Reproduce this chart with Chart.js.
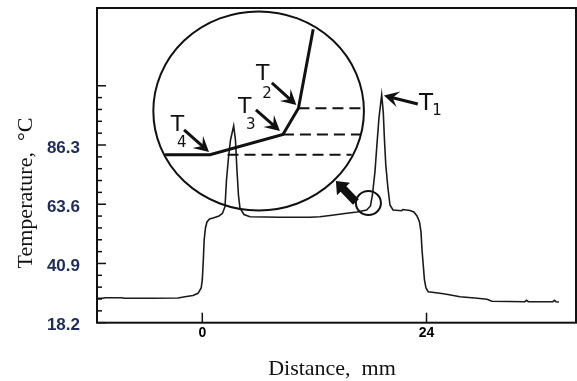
<!DOCTYPE html>
<html><head><meta charset="utf-8">
<script src="https://cdn.jsdelivr.net/npm/chart.js@4.4.1/dist/chart.umd.min.js"></script>
<style>html,body{margin:0;padding:0;background:#fff}canvas{display:block}</style>
</head><body>
<canvas id="c" width="577" height="381"></canvas>
<script>
// ---- temperature profile ----
const distance = [-11.27,-10.63,-10.41,-8.59,-8.38,-5.6,-2.6,-1.85,-1.0,-0.46,-0.12,0,0.11,0.2,0.34,0.5,0.77,1.15,1.79,2.16,2.43,2.59,2.8,3.02,3.36,3.55,3.71,3.87,4.03,4.46,5.1,8.31,11.52,12.59,13.88,15.27,16.55,17.59,18.0,18.21,18.48,18.69,18.91,19.2,19.37,19.5,19.64,19.87,20.09,20.41,21.34,21.47,22.23,22.65,22.98,23.25,23.41,23.52,23.65,23.78,23.94,24.18,25.44,26.29,27.58,29.18,30.47,31.0,34.52,34.71,34.9,37.53,37.69,37.85,38.17];
const temperature = [27.55,27.55,27.78,27.78,27.55,27.55,27.67,28.17,28.63,29.47,31.5,34.57,42.23,49.9,54.5,56.8,57.95,58.33,59.1,60.13,62.66,72.9,81.33,88.23,93.6,88.23,76.73,67.15,62.17,59.67,58.83,58.6,58.6,58.83,59.37,60.05,60.63,61.4,62.93,67.15,75.96,86.31,96.66,105.48,98.96,88.23,78.64,69.83,63.31,61.4,61.13,61.59,61.2,60.63,59.1,56.8,52.96,46.06,40.32,34.57,31.5,30.08,29.47,29.01,28.17,27.67,27.17,26.44,26.25,26.79,26.25,26.25,26.79,26.25,26.13];

// ---- axes ----
const xMin = -11.27, xMax = 40;
const yMin = 18.2, yMax = 138.8;
const xTickValues = [0, 24];
const xTickLabels = ['0', '24'];
const yTickValues = [18.2, 40.9, 63.6, 86.3, 109.0];
const yTickLabels = ['18.2', '40.9', '63.6', '86.3', ''];
const xTitle = 'Distance,  mm';
const yTitle = 'Temperature,  \u00B0C';

// ---- inset sketch (data units) ----
const insetCircle = {x: 6.03, y: 99.34, rx: 11.27, ry: 38.14};
const insetLineX = [-3.98, 0.82, 8.63, 10.29, 11.87];
const insetLineY = [82.6, 82.6, 90.33, 100.38, 130.66];
const dashFromX = [10.29, 8.63, 2.7];
const dashToX   = [17.19, 16.98, 15.99];
const dashY     = [100.38, 90.33, 82.6];
const labelNames = ['1', '2', '3', '4'];
const labelTX = [23.96, 6.47, 4.53, -2.65];
const labelTY = [102.91, 114.1, 101.64, 94.55];
const labelSubX = [25.13, 6.92, 5.19, -2.20];
const labelSubY = [99.92, 106.43, 94.36, 87.46];
const arrowTailX = [23.07, 7.45, 5.74, -1.95];
const arrowTailY = [102.0, 110.07, 99.73, 92.06];
const arrowTipX  = [19.44, 10.07, 8.31, 0.72];
const arrowTipY  = [105.28, 101.64, 91.68, 83.63];
const markCircle = {x: 17.78, y: 64.08, rx: 1.34, ry: 4.6};
const bigArrow = {x1: 16.44, y1: 64.46, x2: 14.3, y2: 72.51};

function drawArrow(ctx, x1, y1, x2, y2, w, len, half, notch) {
  const a = Math.atan2(y2 - y1, x2 - x1);
  const dx = Math.cos(a), dy = Math.sin(a);
  const px = -dy, py = dx;
  const nx = x2 - dx * len * notch, ny = y2 - dy * len * notch;
  ctx.lineWidth = w; ctx.lineCap = 'butt';
  ctx.beginPath(); ctx.moveTo(x1, y1); ctx.lineTo(nx + dx * 1, ny + dy * 1); ctx.stroke();
  ctx.beginPath();
  ctx.moveTo(x2, y2);
  ctx.lineTo(x2 - dx * len + px * half, y2 - dy * len + py * half);
  ctx.lineTo(nx, ny);
  ctx.lineTo(x2 - dx * len - px * half, y2 - dy * len - py * half);
  ctx.closePath(); ctx.fill();
}

const decor = {
  id: 'decor',
  afterDatasetsDraw(chart) {
    const ctx = chart.ctx, xs = chart.scales.x, ys = chart.scales.y, ca = chart.chartArea;
    const X = v => xs.getPixelForValue(v), Y = v => ys.getPixelForValue(v);
    ctx.save();
    ctx.strokeStyle = '#111'; ctx.fillStyle = '#111';
    // frame
    ctx.lineWidth = 2;
    ctx.strokeRect(ca.left, ca.top, ca.right - ca.left, ca.bottom - ca.top);
    // y ticks (inward)
    ctx.lineWidth = 1.5;
    for (let i = 0; i < yTickValues.length; i++) {
      const v = yTickValues[i];
      ctx.beginPath(); ctx.moveTo(ca.left, Y(v)); ctx.lineTo(ca.left + 9, Y(v)); ctx.stroke();
      if (i < yTickValues.length - 1) {
        const step = (yTickValues[i + 1] - v) / 5;
        for (let k = 1; k < 5; k++) {
          const yy = Y(v + k * step);
          ctx.beginPath(); ctx.moveTo(ca.left, yy); ctx.lineTo(ca.left + 5, yy); ctx.stroke();
        }
      }
    }
    // x ticks (inward)
    xTickValues.forEach(v => {
      ctx.beginPath(); ctx.moveTo(X(v), ca.bottom); ctx.lineTo(X(v), ca.bottom - 10); ctx.stroke();
    });
    // inset circle
    const cx = X(insetCircle.x), cy = Y(insetCircle.y);
    const rx = Math.abs(X(insetCircle.x + insetCircle.rx) - cx), ry = Math.abs(Y(insetCircle.y + insetCircle.ry) - cy);
    ctx.lineWidth = 2;
    ctx.beginPath(); ctx.ellipse(cx, cy, rx, ry, 0, 0, Math.PI * 2); ctx.stroke();
    // inset solid line
    ctx.lineWidth = 3; ctx.lineJoin = 'miter';
    ctx.beginPath();
    insetLineX.forEach((v, i) => { i ? ctx.lineTo(X(v), Y(insetLineY[i])) : ctx.moveTo(X(v), Y(insetLineY[i])); });
    ctx.stroke();
    // dashed
    ctx.lineWidth = 2; ctx.setLineDash([11, 6]);
    dashY.forEach((v, i) => {
      ctx.beginPath(); ctx.moveTo(X(dashFromX[i]), Y(v)); ctx.lineTo(X(dashToX[i]), Y(v)); ctx.stroke();
    });
    ctx.setLineDash([]);
    // arrows
    for (let i = 0; i < arrowTailX.length; i++) {
      drawArrow(ctx, X(arrowTailX[i]), Y(arrowTailY[i]), X(arrowTipX[i]), Y(arrowTipY[i]), 3, 15, 8, 0.6);
    }
    // labels
    ctx.textAlign = 'center'; ctx.textBaseline = 'alphabetic';
    for (let i = 0; i < labelNames.length; i++) {
      const big = i === 0 ? 23 : 22;
      ctx.font = big + 'px "DejaVu Sans"';
      ctx.fillText('T', X(labelTX[i]), Y(labelTY[i]) + big * 0.365);
      ctx.font = '15px "DejaVu Sans"';
      ctx.fillText(labelNames[i], X(labelSubX[i]), Y(labelSubY[i]) + 15 * 0.365);
    }
    // small circle
    const mx = X(markCircle.x), my = Y(markCircle.y);
    ctx.lineWidth = 2;
    ctx.beginPath();
    ctx.ellipse(mx, my, Math.abs(X(markCircle.x + markCircle.rx) - mx), Math.abs(Y(markCircle.y + markCircle.ry) - my), 0, 0, Math.PI * 2);
    ctx.stroke();
    // thick arrow
    drawArrow(ctx, X(bigArrow.x1), Y(bigArrow.y1), X(bigArrow.x2), Y(bigArrow.y2), 8, 11, 9, 1);
    // axis titles
    ctx.fillStyle = '#111';
    ctx.font = '22px "Liberation Serif"';
    ctx.textAlign = 'center'; ctx.textBaseline = 'middle';
    ctx.fillText(xTitle, 332, 369);
    ctx.translate(26, 193); ctx.rotate(-Math.PI / 2);
    ctx.fillText(yTitle, 0, 0);
    ctx.restore();
  }
};

new Chart(document.getElementById('c'), {
  type: 'line',
  data: {
    datasets: [{
      data: distance.map((x, i) => ({x, y: temperature[i]})),
      borderColor: '#1a1a1a', borderWidth: 1.6, pointRadius: 0, tension: 0, fill: false
    }]
  },
  options: {
    responsive: false, animation: false, devicePixelRatio: 1,
    layout: {padding: {left: 0, top: 8, right: 1, bottom: 0}},
    plugins: {legend: {display: false}, tooltip: {enabled: false}},
    scales: {
      x: {
        type: 'linear', min: xMin, max: xMax,
        grid: {display: false, drawTicks: false}, border: {display: false},
        afterBuildTicks: s => { s.ticks = xTickValues.map(v => ({value: v})); },
        afterFit: s => { s.height = 58.3; s.paddingLeft = 0; s.paddingRight = 0; },
        ticks: {
          callback: (v, i) => xTickLabels[i], padding: 2, autoSkip: false, maxRotation: 0,
          font: {family: '"Liberation Sans"', size: 14, weight: 'bold'}, color: '#000'
        }
      },
      y: {
        type: 'linear', min: yMin, max: yMax,
        grid: {display: false, drawTicks: false}, border: {display: false},
        afterBuildTicks: s => { s.ticks = yTickValues.map(v => ({value: v})); },
        afterFit: s => { s.width = 97; s.paddingTop = 0; s.paddingBottom = 0; },
        ticks: {
          callback: (v, i) => yTickLabels[i], padding: 17, labelOffset: 3, autoSkip: false,
          font: {family: '"Liberation Sans"', size: 17, weight: 'bold'}, color: '#1d2b5e'
        }
      }
    }
  },
  plugins: [decor]
});
</script>
</body></html>
